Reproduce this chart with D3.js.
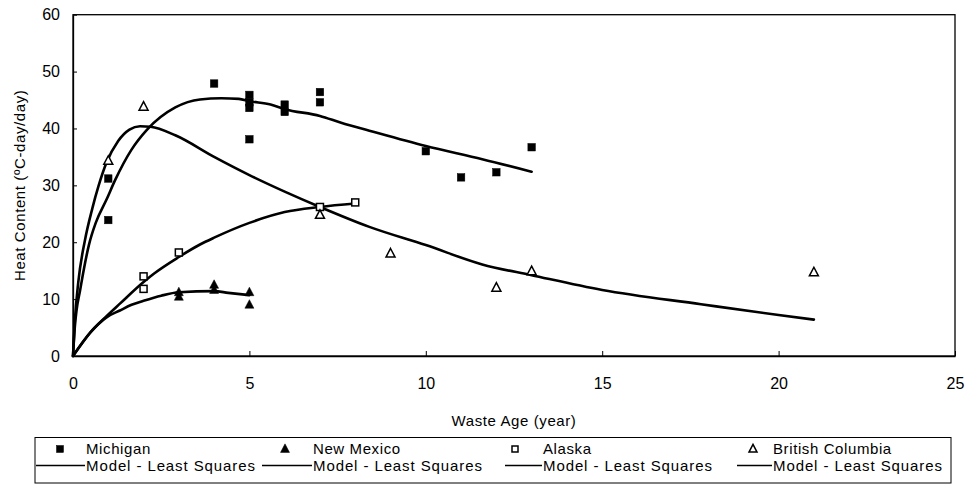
<!DOCTYPE html>
<html>
<head>
<meta charset="utf-8">
<script src="https://cdn.jsdelivr.net/npm/d3@7"></script>
<style>
  html, body { margin: 0; padding: 0; background: #fff; }
  svg { display: block; font-family: "Liberation Sans", Arial, sans-serif; }
</style>
</head>
<body>
<svg id="chart" width="969" height="487"></svg>
<script>
// ---------- DATA ----------
const xTicks = [0, 5, 10, 15, 20, 25];
const yTicks = [0, 10, 20, 30, 40, 50, 60];

const michiganAge  = [1, 1, 4, 5, 5, 5, 5, 6, 6, 7, 7, 10, 11, 12, 13];
const michiganHeat = [31.2, 23.9, 47.9, 45.9, 44.6, 43.6, 38.1, 44.2, 42.9, 46.4, 44.6, 36.0, 31.4, 32.3, 36.7];

const newMexicoAge  = [3, 3, 4, 4, 5, 5];
const newMexicoHeat = [11.2, 10.4, 12.5, 11.6, 11.2, 9.0];

const alaskaAge  = [2, 2, 3, 7, 8];
const alaskaHeat = [14.0, 11.8, 18.2, 26.2, 27.0];

const bcAge  = [1, 2, 7, 9, 12, 13, 21];
const bcHeat = [34.3, 43.8, 24.8, 18.0, 12.0, 14.9, 14.7];

// Model - Least Squares curves
const michiganModelAge  = [0, 0.05, 0.1, 0.2, 0.3, 0.45, 0.65, 0.95, 1.2, 1.65, 2.1, 2.9, 3.6, 4.2, 4.7, 5, 5.6, 6, 7, 7.6, 8.4, 10, 11.6, 13];
const michiganModelHeat = [0, 5, 8, 11.5, 15, 19.5, 23.5, 27.5, 31, 36.2, 39.8, 43.7, 45.1, 45.3, 45.2, 44.8, 44.2, 43.4, 42.2, 41.0, 39.6, 36.9, 34.6, 32.4];

const newMexicoModelAge  = [0, 0.5, 0.95, 1.33, 1.66, 2, 2.5, 3, 4, 4.4, 5];
const newMexicoModelHeat = [0, 4.2, 6.8, 8.0, 9.0, 9.7, 10.6, 11.2, 11.4, 11.1, 10.7];

const alaskaModelAge  = [0, 0.5, 0.95, 1.33, 2, 2.3, 3, 3.6, 4, 5, 6, 7, 8];
const alaskaModelHeat = [0, 4.2, 7.0, 9.2, 13.0, 14.5, 17.4, 19.6, 20.8, 23.4, 25.3, 26.2, 26.8];

const bcModelAge  = [0, 0.05, 0.15, 0.34, 0.55, 0.72, 0.95, 1.28, 1.6, 1.9, 2.2, 2.9, 4, 5, 6, 7, 8.4, 10, 11.6, 13, 15, 17.8, 20, 21];
const bcModelHeat = [0, 6, 13, 20.4, 26, 29.8, 34.0, 37.8, 39.8, 40.4, 40.3, 38.8, 35.0, 31.8, 28.9, 26.2, 22.7, 19.5, 16.1, 14.2, 11.6, 9.1, 7.2, 6.4];

const seriesNames = ["Michigan", "New Mexico", "Alaska", "British Columbia"];
const modelLabel = "Model - Least Squares";
const xTitle = "Waste Age (year)";
const yTitle = "Heat Content (ºC-day/day)";

// ---------- LAYOUT ----------
const plot = { left: 73, right: 955, top: 14.7, bottom: 356 };
const svg = d3.select("#chart");
const FONT = 15, SPACING = 0.6;

const x = d3.scaleLinear().domain([0, 25]).range([plot.left, plot.right]);
const y = d3.scaleLinear().domain([0, 60]).range([plot.bottom, plot.top]);

const markerKinds = ["squareFilled", "triangleFilled", "squareOpen", "triangleOpen"];

function drawMarker(sel, kind, s) {
  if (kind === "squareFilled" || kind === "squareOpen") {
    sel.append("rect")
      .attr("x", -s / 2).attr("y", -s / 2).attr("width", s).attr("height", s)
      .attr("fill", kind === "squareFilled" ? "#000" : "#fff")
      .attr("stroke", "#000").attr("stroke-width", kind === "squareFilled" ? 0.5 : 1.5);
  } else {
    const h = s * 0.95;
    const p = `M0,${-h * 0.6}L${s / 2},${h * 0.4}L${-s / 2},${h * 0.4}Z`;
    sel.append("path").attr("d", p)
      .attr("fill", kind === "triangleFilled" ? "#000" : "#fff")
      .attr("stroke", "#000").attr("stroke-width", kind === "triangleFilled" ? 0.5 : 1.5)
      .attr("stroke-linejoin", "miter");
  }
}

// frame
svg.append("rect")
  .attr("x", plot.left).attr("y", plot.top)
  .attr("width", plot.right - plot.left).attr("height", plot.bottom - plot.top)
  .attr("fill", "none").attr("stroke", "#000").attr("stroke-width", 1.3);

// axes
const xAxis = svg.append("g").attr("transform", `translate(0,${plot.bottom})`)
  .call(d3.axisBottom(x).tickValues(xTicks).tickSizeInner(-5).tickSizeOuter(0).tickPadding(22));
const yAxis = svg.append("g").attr("transform", `translate(${plot.left},0)`)
  .call(d3.axisLeft(y).tickValues(yTicks).tickSizeInner(-4).tickSizeOuter(0).tickPadding(13));
[xAxis, yAxis].forEach(g => {
  g.selectAll(".domain").attr("stroke", "#000").attr("stroke-width", 1.3);
  g.selectAll(".tick line").attr("stroke", "#000").attr("stroke-width", 1);
  g.selectAll(".tick text").attr("font-size", FONT + 1).attr("fill", "#000")
    .attr("font-family", "Liberation Sans, Arial, sans-serif");
});

// titles
svg.append("text").attr("x", (plot.left + plot.right) / 2).attr("y", 426)
  .attr("text-anchor", "middle").attr("font-size", FONT).attr("letter-spacing", SPACING).text(xTitle);
svg.append("text").attr("transform", `translate(25,${(plot.top + plot.bottom) / 2}) rotate(-90)`)
  .attr("text-anchor", "middle").attr("font-size", FONT).attr("letter-spacing", SPACING).text(yTitle);

// model curves
const models = [
  [michiganModelAge, michiganModelHeat],
  [newMexicoModelAge, newMexicoModelHeat],
  [alaskaModelAge, alaskaModelHeat],
  [bcModelAge, bcModelHeat]
];
const line = d3.line().x(d => x(d[0])).y(d => y(d[1])).curve(d3.curveMonotoneX);
models.forEach(([ages, heats]) => {
  svg.append("path")
    .attr("d", line(ages.map((a, i) => [a, heats[i]])))
    .attr("fill", "none").attr("stroke", "#000").attr("stroke-width", 2.6)
    .attr("stroke-linejoin", "round").attr("stroke-linecap", "round");
});

// observed points
const observed = [
  [michiganAge, michiganHeat],
  [newMexicoAge, newMexicoHeat],
  [alaskaAge, alaskaHeat],
  [bcAge, bcHeat]
];
const markerSize = [7.5, 9, 7, 9];
observed.forEach(([ages, heats], k) => {
  ages.forEach((a, i) => {
    const g = svg.append("g").attr("transform", `translate(${x(a)},${y(heats[i])})`);
    drawMarker(g, markerKinds[k], markerSize[k]);
  });
});

// legend
const legend = { left: 35, right: 951, top: 437.5, bottom: 483, base1: 453.5, base2: 471 };
svg.append("rect")
  .attr("x", legend.left).attr("y", legend.top)
  .attr("width", legend.right - legend.left).attr("height", legend.bottom - legend.top)
  .attr("fill", "#fff").attr("stroke", "#000").attr("stroke-width", 1);
const legSymX = [60, 285, 515, 753];
const legTextX = [86, 313, 543, 773];
const legLineX0 = [36, 262, 505, 737];
const legMarkerSize = [7, 9, 6, 8];
seriesNames.forEach((name, k) => {
  const g = svg.append("g").attr("transform", `translate(${legSymX[k]},${legend.base1 - 4.5})`);
  drawMarker(g, markerKinds[k], legMarkerSize[k]);
  svg.append("text").attr("x", legTextX[k]).attr("y", legend.base1)
    .attr("font-size", FONT).attr("letter-spacing", SPACING).text(name);
  svg.append("line")
    .attr("x1", legLineX0[k]).attr("x2", legTextX[k] - 1)
    .attr("y1", legend.base2 - 5.5).attr("y2", legend.base2 - 5.5)
    .attr("stroke", "#000").attr("stroke-width", 1.6);
  svg.append("text").attr("x", legTextX[k]).attr("y", legend.base2)
    .attr("font-size", FONT).attr("letter-spacing", SPACING + 0.3).text(modelLabel);
});
</script>
</body>
</html>
